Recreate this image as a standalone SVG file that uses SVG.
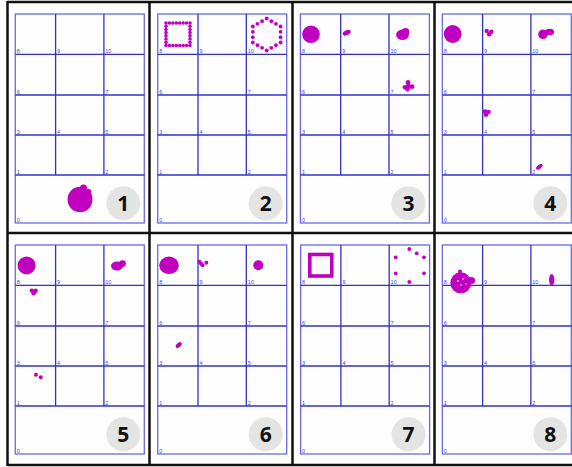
<svg xmlns="http://www.w3.org/2000/svg" xmlns:xlink="http://www.w3.org/1999/xlink" width="572" height="467" viewBox="0 0 572 467">
<style>
.frame{stroke:#111;stroke-width:2.5;fill:none}
.outer{fill:#fdfdfd;stroke:#6a6ae0;stroke-width:1.3}
.gl{stroke:#3232c6;stroke-width:1.3}
.lb{font-family:"Liberation Sans",Arial,sans-serif;font-size:5.5px;fill:#4848cc}
.badge{fill:#e4e4e4}
.num{font-family:"Open Sans","Liberation Sans",Arial,sans-serif;font-size:21px;font-weight:bold;fill:#111;text-anchor:middle}
.m{fill:#bf00bf}
.ms{fill:none;stroke:#bf00bf;stroke-width:3.6}
.w{fill:#e8a0e8}
</style>
<defs>
<g id="grid">
<rect class="outer" x="0" y="0" width="129" height="209"/>
<line class="gl" x1="0" y1="40.3" x2="129" y2="40.3"/>
<line class="gl" x1="0" y1="81" x2="129" y2="81"/>
<line class="gl" x1="0" y1="121" x2="129" y2="121"/>
<line class="gl" x1="0" y1="161" x2="129" y2="161"/>
<line class="gl" x1="40.3" y1="0" x2="40.3" y2="161"/>
<line class="gl" x1="88.6" y1="0" x2="88.6" y2="161"/>
<text class="lb" x="1.5" y="39">8</text>
<text class="lb" x="41.8" y="39">9</text>
<text class="lb" x="90" y="39">10</text>
<text class="lb" x="1.5" y="79.7">6</text>
<text class="lb" x="90" y="79.7">7</text>
<text class="lb" x="1.5" y="119.7">3</text>
<text class="lb" x="41.8" y="119.7">4</text>
<text class="lb" x="90" y="119.7">5</text>
<text class="lb" x="1.5" y="159.7">1</text>
<text class="lb" x="90" y="159.7">2</text>
<text class="lb" x="1.5" y="207.7">0</text>
<circle class="badge" cx="108" cy="189.3" r="17"/>
</g>
</defs>
<rect x="0" y="0" width="572" height="467" fill="#fff"/>

<g id="frame">
<line class="frame" x1="7.5" y1="2" x2="572" y2="2"/>
<line class="frame" x1="7.5" y1="465" x2="572" y2="465"/>
<line class="frame" x1="7.5" y1="233" x2="572" y2="233"/>
<line class="frame" x1="7.5" y1="1" x2="7.5" y2="466"/>
<line class="frame" x1="149.5" y1="1" x2="149.5" y2="466"/>
<line class="frame" x1="292.5" y1="1" x2="292.5" y2="466"/>
<line class="frame" x1="434.5" y1="1" x2="434.5" y2="466"/>
</g>

<g id="panel1">
<use xlink:href="#grid" transform="translate(15.3,14)"/>
<ellipse class="m" cx="80" cy="199.5" rx="12.5" ry="12.7"/>
<circle class="m" cx="83.5" cy="188" r="3.6"/>
<circle class="m" cx="88.5" cy="192" r="3"/>
<text class="num" x="123.3" y="210.8">1</text>
</g>

<g id="panel2">
<use xlink:href="#grid" transform="translate(157.7,14)"/>
<g class="m">
<circle cx="166" cy="23" r="1.8"/><circle cx="169.43" cy="23" r="1.8"/><circle cx="172.86" cy="23" r="1.8"/><circle cx="176.29" cy="23" r="1.8"/><circle cx="179.71" cy="23" r="1.8"/><circle cx="183.14" cy="23" r="1.8"/><circle cx="186.57" cy="23" r="1.8"/><circle cx="190" cy="23" r="1.8"/>
<circle cx="166" cy="45.5" r="1.8"/><circle cx="169.43" cy="45.5" r="1.8"/><circle cx="172.86" cy="45.5" r="1.8"/><circle cx="176.29" cy="45.5" r="1.8"/><circle cx="179.71" cy="45.5" r="1.8"/><circle cx="183.14" cy="45.5" r="1.8"/><circle cx="186.57" cy="45.5" r="1.8"/><circle cx="190" cy="45.5" r="1.8"/>
<circle cx="166" cy="26.21" r="1.8"/><circle cx="166" cy="29.43" r="1.8"/><circle cx="166" cy="32.64" r="1.8"/><circle cx="166" cy="35.86" r="1.8"/><circle cx="166" cy="39.07" r="1.8"/><circle cx="166" cy="42.29" r="1.8"/>
<circle cx="190" cy="26.21" r="1.8"/><circle cx="190" cy="29.43" r="1.8"/><circle cx="190" cy="32.64" r="1.8"/><circle cx="190" cy="35.86" r="1.8"/><circle cx="190" cy="39.07" r="1.8"/><circle cx="190" cy="42.29" r="1.8"/>
<circle cx="266.7" cy="18.5" r="1.9"/><circle cx="271.32" cy="21.17" r="1.9"/><circle cx="275.94" cy="23.83" r="1.9"/>
<circle cx="280.56" cy="26.5" r="1.9"/><circle cx="280.56" cy="31.83" r="1.9"/><circle cx="280.56" cy="37.17" r="1.9"/>
<circle cx="280.56" cy="42.5" r="1.9"/><circle cx="275.94" cy="45.17" r="1.9"/><circle cx="271.32" cy="47.83" r="1.9"/>
<circle cx="266.7" cy="50.5" r="1.9"/><circle cx="262.08" cy="47.83" r="1.9"/><circle cx="257.46" cy="45.17" r="1.9"/>
<circle cx="252.84" cy="42.5" r="1.9"/><circle cx="252.84" cy="37.17" r="1.9"/><circle cx="252.84" cy="31.83" r="1.9"/>
<circle cx="252.84" cy="26.5" r="1.9"/><circle cx="257.46" cy="23.83" r="1.9"/><circle cx="262.08" cy="21.17" r="1.9"/>
</g>
<text class="num" x="265.7" y="210.8">2</text>
</g>

<g id="panel3">
<use xlink:href="#grid" transform="translate(300.4,14)"/>
<circle class="m" cx="311" cy="34.3" r="8.8"/>
<ellipse class="m" cx="346.7" cy="32.7" rx="4.2" ry="2.5" transform="rotate(-25 346.7 32.7)"/>
<ellipse class="m" cx="402.5" cy="34.8" rx="6.4" ry="5.2"/>
<circle class="m" cx="405.5" cy="31.8" r="3.8"/>
<circle class="m" cx="408" cy="82.5" r="2.4"/>
<circle class="m" cx="405" cy="87.3" r="2.4"/>
<circle class="m" cx="412" cy="86.7" r="2.4"/>
<circle class="m" cx="407.5" cy="89.2" r="2.2"/>
<circle class="m" cx="408.3" cy="86.3" r="2.6"/>
<text class="num" x="408.4" y="210.8">3</text>
</g>

<g id="panel4">
<use xlink:href="#grid" transform="translate(442.3,14)"/>
<circle class="m" cx="452.7" cy="34" r="8.9"/>
<circle class="m" cx="486.7" cy="30.9" r="2.2"/>
<circle class="m" cx="491.3" cy="31.7" r="2.2"/>
<circle class="m" cx="489.2" cy="34.2" r="2.3"/>
<circle class="m" cx="543" cy="34.3" r="4.8"/>
<ellipse class="m" cx="549.5" cy="32" rx="4.5" ry="3.3"/>
<circle class="m" cx="485" cy="111.5" r="2.3"/>
<circle class="m" cx="488.5" cy="112" r="2.3"/>
<circle class="m" cx="486" cy="114.8" r="2.3"/>
<ellipse class="m" cx="539.3" cy="166.8" rx="3.8" ry="2" transform="rotate(-40 539.3 166.8)"/>
<text class="num" x="550.3" y="210.8">4</text>
</g>

<g id="panel5">
<use xlink:href="#grid" transform="translate(15.3,245)"/>
<circle class="m" cx="26.6" cy="265.4" r="9"/>
<ellipse class="m" cx="117" cy="266" rx="6" ry="4.5"/>
<circle class="m" cx="122.5" cy="263.6" r="3.4"/>
<circle class="m" cx="31.8" cy="290.6" r="2.2"/>
<circle class="m" cx="35.6" cy="290.8" r="2.2"/>
<circle class="m" cx="33.6" cy="293.3" r="2.2"/>
<circle class="m" cx="36" cy="374.7" r="2"/>
<circle class="m" cx="40.7" cy="377.3" r="2"/>
<text class="num" x="123.3" y="441.8">5</text>
</g>

<g id="panel6">
<use xlink:href="#grid" transform="translate(157.7,245)"/>
<ellipse class="m" cx="169" cy="265.3" rx="9.8" ry="8.7"/>
<circle class="m" cx="199.3" cy="261.7" r="2"/>
<circle class="m" cx="201" cy="263.5" r="2"/>
<circle class="m" cx="202.5" cy="265.3" r="2"/>
<circle class="m" cx="206.3" cy="262.7" r="2"/>
<circle class="m" cx="258.3" cy="265.3" r="5"/>
<ellipse class="m" cx="178.7" cy="345" rx="3.6" ry="2.1" transform="rotate(-45 178.7 345)"/>
<text class="num" x="265.7" y="441.8">6</text>
</g>

<g id="panel7">
<use xlink:href="#grid" transform="translate(300.6,245)"/>
<rect class="ms" x="309.8" y="254.5" width="22" height="21.5"/>
<g class="m">
<circle cx="409.3" cy="249" r="1.9"/>
<circle cx="416.7" cy="253.3" r="1.9"/>
<circle cx="395.7" cy="257.3" r="1.9"/>
<circle cx="424" cy="257.3" r="1.9"/>
<circle cx="395.7" cy="273.3" r="1.9"/>
<circle cx="424" cy="273.3" r="1.9"/>
<circle cx="409.3" cy="282" r="1.9"/>
</g>
<text class="num" x="408.6" y="441.8">7</text>
</g>

<g id="panel8">
<use xlink:href="#grid" transform="translate(442.3,245)"/>
<circle class="m" cx="460.8" cy="282.8" r="10.5"/>
<circle class="m" cx="471.5" cy="280.5" r="3.6"/>
<circle class="m" cx="460" cy="271.5" r="2"/>
<circle class="w" cx="458" cy="281" r="1"/>
<circle class="w" cx="463" cy="279" r="0.9"/>
<circle class="w" cx="461" cy="285" r="0.9"/>
<circle class="w" cx="466" cy="284" r="0.8"/>
<ellipse class="m" cx="551.7" cy="279.8" rx="2.7" ry="5.8"/>
<text class="num" x="550.3" y="441.8">8</text>
</g>
</svg>
